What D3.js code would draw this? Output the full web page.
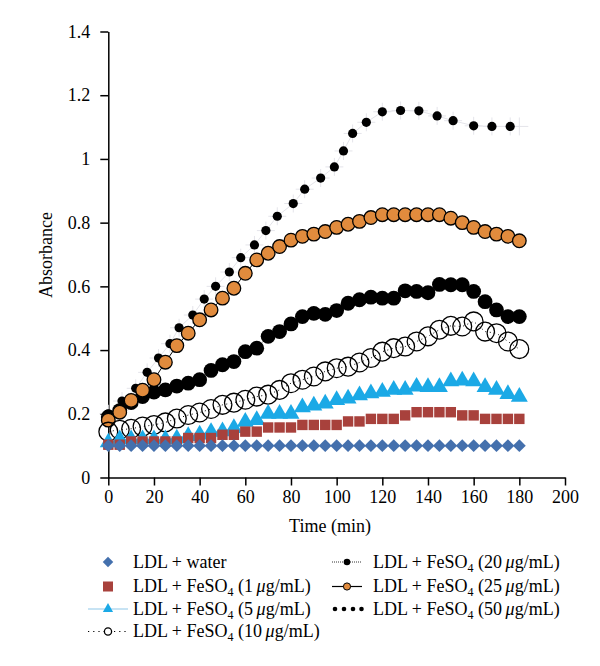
<!DOCTYPE html>
<html>
<head>
<meta charset="utf-8">
<script src="https://cdn.jsdelivr.net/npm/d3@7"></script>
<style>
  html, body { margin: 0; padding: 0; background: #fff; }
  svg text { font-family: "Liberation Serif", "DejaVu Serif", serif; fill: #000; }
</style>
</head>
<body>
<svg id="chart" width="600" height="666"></svg>
<script>
// ---------- DATA ----------
const times = d3.range(0, 181, 5); // 0..180 min every 5 min
const water = [0.1,0.1,0.1,0.1,0.1,0.1,0.1,0.1,0.1,0.1,0.1,0.1,0.1,0.1,0.1,0.1,0.1,0.1,0.1,0.1,0.1,0.1,0.1,0.1,0.1,0.1,0.1,0.1,0.1,0.1,0.1,0.1,0.1,0.1,0.1,0.1,0.1];
const fe1 = [0.103,0.103,0.113,0.113,0.113,0.113,0.113,0.124,0.124,0.124,0.134,0.134,0.144,0.144,0.157,0.157,0.157,0.165,0.165,0.165,0.165,0.176,0.176,0.184,0.184,0.184,0.195,0.205,0.205,0.205,0.205,0.195,0.195,0.184,0.184,0.184,0.184];
const fe5 = [0.11,0.12,0.12,0.12,0.12,0.12,0.122,0.13,0.135,0.143,0.145,0.155,0.175,0.18,0.2,0.2,0.2,0.22,0.226,0.232,0.243,0.248,0.258,0.264,0.269,0.275,0.275,0.285,0.284,0.284,0.302,0.304,0.302,0.284,0.275,0.262,0.253];
const fe10 = [0.144,0.15,0.153,0.16,0.165,0.173,0.185,0.196,0.204,0.215,0.228,0.235,0.244,0.254,0.26,0.275,0.296,0.307,0.317,0.333,0.343,0.348,0.361,0.375,0.395,0.406,0.411,0.427,0.443,0.464,0.476,0.474,0.49,0.458,0.453,0.427,0.403];
const fe20 = [0.19,0.21,0.235,0.254,0.268,0.275,0.287,0.296,0.307,0.336,0.354,0.364,0.395,0.406,0.443,0.458,0.482,0.505,0.515,0.512,0.524,0.547,0.558,0.566,0.563,0.563,0.586,0.584,0.58,0.606,0.605,0.605,0.584,0.552,0.526,0.505,0.505];
const fe25 = [0.18,0.205,0.242,0.274,0.307,0.362,0.414,0.453,0.495,0.526,0.563,0.594,0.641,0.683,0.704,0.725,0.745,0.757,0.764,0.772,0.785,0.795,0.804,0.816,0.825,0.825,0.825,0.825,0.825,0.825,0.814,0.8,0.785,0.772,0.764,0.757,0.743];
const times50 = [0,6,12,17,22,27,31,37,42,47,53,58,64,69,74,81,86,93,99,103,107,113,120,128,136,144,151,160,168,176];
const fe50 = [0.2,0.24,0.28,0.33,0.375,0.42,0.47,0.51,0.56,0.6,0.645,0.69,0.73,0.775,0.82,0.86,0.905,0.94,0.975,1.025,1.08,1.115,1.148,1.152,1.151,1.135,1.12,1.104,1.102,1.102];

const xTicks = [0,20,40,60,80,100,120,140,160,180,200];
const yTicks = [0,0.2,0.4,0.6,0.8,1.0,1.2,1.4];
const xTitle = "Time (min)";
const yTitle = "Absorbance";

const FS = 18;

// ---------- SCALES ----------
const svg = d3.select("#chart");
const x = d3.scaleLinear().domain([0, 200]).range([108.3, 565]);
const y = d3.scaleLinear().domain([0, 1.4]).range([477.5, 31.5]);

const fmtY = d => (d === 0 ? "0" : d3.format("~g")(d));

// ---------- AXES ----------
const gx = svg.append("g").attr("transform", `translate(0,${y(0)})`)
  .call(d3.axisBottom(x).tickValues(xTicks).tickSize(8).tickSizeOuter(0).tickPadding(5).tickFormat(d3.format("d")));
const gy = svg.append("g").attr("transform", `translate(${x(0)},0)`)
  .call(d3.axisLeft(y).tickValues(yTicks).tickSize(8).tickSizeOuter(0).tickPadding(10).tickFormat(fmtY));
[gx, gy].forEach(g => {
  g.selectAll("path.domain").attr("stroke", "#000").attr("stroke-width", 1.5);
  g.selectAll(".tick line").attr("stroke", "#000").attr("stroke-width", 1.5);
  g.selectAll(".tick text").attr("font-family", "Liberation Serif").attr("font-size", FS).attr("fill", "#000");
});

svg.append("text").attr("x", 330).attr("y", 532).attr("text-anchor", "middle").attr("font-size", FS).text(xTitle);
svg.append("text").attr("transform", "translate(52,255) rotate(-90)").attr("text-anchor", "middle").attr("font-size", FS).text(yTitle);

// ---------- SERIES ----------
const pts = (ts, vs) => ts.map((t, i) => [t, vs[i]]);
const line = d3.line().x(d => x(d[0])).y(d => y(d[1]));
const plot = svg.append("g");

// 50 ug/mL : faint grey crosses + small black dots
const s50 = pts(times50, fe50);
plot.append("path").datum(s50).attr("d", line).attr("fill", "none").attr("stroke", "#e4e4ea").attr("stroke-width", 1);
plot.selectAll(".c50").data(s50).enter().append("path")
  .attr("d", d => `M${x(d[0]) - 9},${y(d[1])}H${x(d[0]) + 9}M${x(d[0])},${y(d[1]) - 9}V${y(d[1]) + 9}`)
  .attr("stroke", "#e4e4ea").attr("stroke-width", 1).attr("fill", "none");
plot.append("path")
  .attr("d", `M${x(180) - 9},${y(1.102)}H${x(180) + 9}M${x(180)},${y(1.102) - 9}V${y(1.102) + 9}`)
  .attr("stroke", "#e4e4ea").attr("stroke-width", 1);
plot.selectAll(".d50").data(s50).enter().append("circle")
  .attr("cx", d => x(d[0])).attr("cy", d => y(d[1])).attr("r", 4.6).attr("fill", "#000");

// 20 ug/mL : dotted line + big black dots
const s20 = pts(times, fe20);
plot.append("path").datum(s20).attr("d", line).attr("fill", "none").attr("stroke", "#000").attr("stroke-width", 1).attr("stroke-dasharray", "1,2");
plot.selectAll(".d20").data(s20).enter().append("circle")
  .attr("cx", d => x(d[0])).attr("cy", d => y(d[1])).attr("r", 7.4).attr("fill", "#000");

// 25 ug/mL : solid line + orange circles
const s25 = pts(times, fe25);
plot.append("path").datum(s25).attr("d", line).attr("fill", "none").attr("stroke", "#000").attr("stroke-width", 1);
plot.selectAll(".d25").data(s25).enter().append("circle")
  .attr("cx", d => x(d[0])).attr("cy", d => y(d[1])).attr("r", 6.8)
  .attr("fill", "#e18b3d").attr("stroke", "#000").attr("stroke-width", 1.3);

// 10 ug/mL : dotted line + open circles
const s10 = pts(times, fe10);
plot.append("path").datum(s10).attr("d", line).attr("fill", "none").attr("stroke", "#000").attr("stroke-width", 1).attr("stroke-dasharray", "1,3.5");
plot.selectAll(".d10").data(s10).enter().append("circle")
  .attr("cx", d => x(d[0])).attr("cy", d => y(d[1])).attr("r", 9.4)
  .attr("fill", "none").attr("stroke", "#000").attr("stroke-width", 1.3);

// 5 ug/mL : light blue line + triangles
const s5 = pts(times, fe5);
plot.append("path").datum(s5).attr("d", line).attr("fill", "none").attr("stroke", "#8fc7e8").attr("stroke-width", 1);
const tri = d3.symbol().type(d3.symbolTriangle).size(125);
plot.selectAll(".d5").data(s5).enter().append("path")
  .attr("d", tri).attr("transform", d => `translate(${x(d[0])},${y(d[1])})`).attr("fill", "#1ba9e6");

// 1 ug/mL : squares
const s1 = pts(times, fe1);
plot.selectAll(".d1").data(s1).enter().append("rect")
  .attr("x", d => x(d[0]) - 5.2).attr("y", d => y(d[1]) - 5.2).attr("width", 10.4).attr("height", 10.4)
  .attr("fill", "#a8413c");

// water : diamonds
const sw = pts(times, water);
const dia = d3.symbol().type(d3.symbolDiamond2).size(105);
plot.selectAll(".dw").data(sw).enter().append("path")
  .attr("d", dia).attr("transform", d => `translate(${x(d[0])},${y(d[1])})`).attr("fill", "#4470ad");

// ---------- LEGEND ----------
const leg = svg.append("g");
const rowsY = [562, 586.5, 609, 631.5];
const legLeft = [
  {name: "water"}, {name: "1"}, {name: "5"}, {name: "10"}
];
const legRight = [{name: "20"}, {name: "25"}, {name: "50"}];

function labelText(g, xPos, yPos, conc) {
  const t = g.append("text").attr("x", xPos).attr("y", yPos + 5.5).attr("font-size", FS);
  if (conc === "water") { t.text("LDL + water"); return; }
  t.append("tspan").text("LDL + FeSO");
  t.append("tspan").attr("font-size", 12).attr("dy", 4).text("4");
  t.append("tspan").attr("dy", -4).text(" (" + conc + "\u2009");
  t.append("tspan").attr("font-style", "italic").text("\u03bc");
  t.append("tspan").text("g/mL)");
}

// left column symbols
leg.append("path").attr("d", d3.symbol().type(d3.symbolDiamond2).size(70)).attr("transform", `translate(108,${rowsY[0]})`).attr("fill", "#4470ad");
leg.append("rect").attr("x", 108 - 5).attr("y", rowsY[1] - 5).attr("width", 10).attr("height", 10).attr("fill", "#a8413c");
leg.append("line").attr("x1", 88).attr("x2", 128).attr("y1", rowsY[2]).attr("y2", rowsY[2]).attr("stroke", "#8fc7e8").attr("stroke-width", 1);
leg.append("path").attr("d", d3.symbol().type(d3.symbolTriangle).size(45)).attr("transform", `translate(108,${rowsY[2]})`).attr("fill", "#1ba9e6");
leg.append("line").attr("x1", 88).attr("x2", 128).attr("y1", rowsY[3]).attr("y2", rowsY[3]).attr("stroke", "#000").attr("stroke-width", 1.2).attr("stroke-dasharray", "1.2,4");
leg.append("circle").attr("cx", 108).attr("cy", rowsY[3]).attr("r", 3.6).attr("fill", "#fff").attr("stroke", "#000").attr("stroke-width", 1.3);
legLeft.forEach((d, i) => labelText(leg, 133, rowsY[i], d.name));

// right column symbols
leg.append("line").attr("x1", 332).attr("x2", 362).attr("y1", rowsY[0]).attr("y2", rowsY[0]).attr("stroke", "#000").attr("stroke-width", 0.8).attr("stroke-dasharray", "1,1");
leg.append("circle").attr("cx", 347).attr("cy", rowsY[0]).attr("r", 3.3).attr("fill", "#000");
leg.append("line").attr("x1", 332).attr("x2", 362).attr("y1", rowsY[1]).attr("y2", rowsY[1]).attr("stroke", "#000").attr("stroke-width", 1.2);
leg.append("circle").attr("cx", 347).attr("cy", rowsY[1]).attr("r", 3.6).attr("fill", "#e18b3d").attr("stroke", "#000").attr("stroke-width", 1);
[335, 344, 353, 361.5].forEach(cx => leg.append("circle").attr("cx", cx).attr("cy", rowsY[2]).attr("r", 2.3).attr("fill", "#000"));
legRight.forEach((d, i) => labelText(leg, 373, rowsY[i], d.name));
</script>
</body>
</html>
